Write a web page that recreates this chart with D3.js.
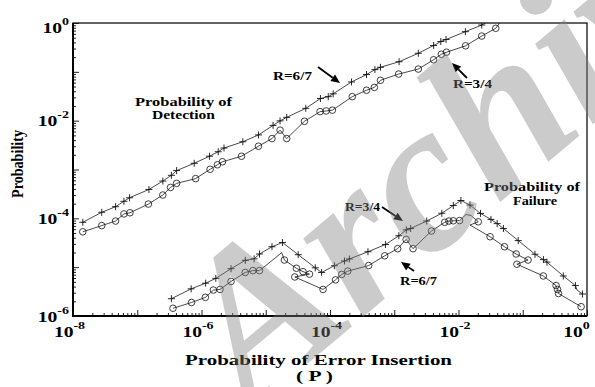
<!DOCTYPE html>
<html>
<head>
<meta charset="utf-8">
<script src="https://cdn.jsdelivr.net/npm/d3@7"></script>
<style>
body { margin: 0; background: #fff; }
svg text { font-family: "Liberation Serif", "Times New Roman", serif; font-weight: bold; fill: #000; }
</style>
</head>
<body>
<svg id="chart" width="595" height="387"></svg>
<script>
// [P, probability, marker?] -- third entry 0 means a line vertex with no marker
var detectR67 = [
  [1.42e-8, 8.3e-5], [2.8e-8, 1.33e-4], [4.6e-8, 1.73e-4], [6.2e-8, 2.23e-4], [7.6e-8, 2.64e-4],
  [1.52e-7, 3.9e-4], [2.5e-7, 5.8e-4], [3.4e-7, 7.6e-4], [4.1e-7, 9.5e-4], [7.7e-7, 1.34e-3],
  [1.33e-6, 1.87e-3], [1.82e-6, 2.31e-3], [2.24e-6, 2.75e-3], [4.4e-6, 3.7e-3], [7.7e-6, 5.1e-3],
  [1.30e-5, 8.0e-3], [1.67e-5, 9.9e-3], [2.12e-5, 1.17e-2], [4.2e-5, 1.79e-2], [7.1e-5, 2.84e-2],
  [9.4e-5, 3.1e-2], [1.12e-4, 3.55e-2], [2.16e-4, 6.2e-2], [3.7e-4, 8.8e-2], [5.0e-4, 0.111],
  [6.1e-4, 0.124], [1.19e-3, 0.161], [2.37e-3, 0.24], [4.1e-3, 0.346], [5.3e-3, 0.418],
  [6.4e-3, 0.459], [1.28e-2, 0.664], [2.30e-2, 0.91], [4.4e-2, 1.46, 0]
];
var detectR34 = [
  [1.42e-8, 5.3e-5], [2.8e-8, 7.1e-5], [4.6e-8, 8.8e-5], [6.2e-8, 1.23e-4], [7.7e-8, 1.30e-4],
  [1.49e-7, 1.96e-4], [2.5e-7, 3.0e-4], [3.3e-7, 4.3e-4], [4.1e-7, 5.2e-4], [8.1e-7, 6.5e-4],
  [1.36e-6, 1.01e-3], [1.77e-6, 1.25e-3], [2.12e-6, 1.44e-3], [4.2e-6, 1.87e-3], [7.7e-6, 3.0e-3],
  [1.25e-5, 4.3e-3], [1.67e-5, 6.4e-3], [2.12e-5, 4.3e-3], [4.0e-5, 9.7e-3], [7.0e-5, 1.53e-2],
  [8.7e-5, 1.58e-2], [1.09e-4, 1.64e-2], [2.22e-4, 3.1e-2], [3.7e-4, 4.2e-2], [4.9e-4, 4.8e-2],
  [6.1e-4, 6.7e-2], [1.17e-3, 9.0e-2], [2.37e-3, 0.114], [4.1e-3, 0.177], [5.4e-3, 0.229],
  [6.5e-3, 0.252], [1.29e-2, 0.341], [2.30e-2, 0.54], [3.8e-2, 0.78], [5.5e-2, 1.53, 0]
];
var failR34 = [
  [3.4e-7, 2.26e-6], [6.9e-7, 3.6e-6], [1.16e-6, 4.7e-6], [1.67e-6, 5.9e-6], [2.88e-6, 9.3e-6],
  [4.8e-6, 1.38e-5], [6.6e-6, 1.48e-5], [8.0e-6, 1.86e-5], [1.25e-5, 2.62e-5], [1.82e-5, 3.2e-5],
  [3.2e-5, 1.80e-5], [5.9e-5, 9.7e-6], [7.4e-5, 7.8e-6], [1.17e-4, 1.07e-5], [1.68e-4, 1.34e-5],
  [2.0e-4, 1.47e-5], [3.9e-4, 2.07e-5], [7.3e-4, 2.91e-5], [1.18e-3, 4.4e-5], [1.54e-3, 5.8e-5],
  [1.80e-3, 6.2e-5], [3.2e-3, 8.8e-5], [5.5e-3, 1.27e-4], [8.3e-3, 1.83e-4], [1.09e-2, 2.32e-4],
  [1.51e-2, 1.87e-4], [2.20e-2, 1.26e-4], [3.2e-2, 9.5e-5], [4.0e-2, 7.8e-5], [5.0e-2, 6.2e-5],
  [8.5e-2, 3.5e-5], [0.155, 1.84e-5], [0.21, 1.43e-5], [0.238, 1.27e-5], [0.428, 6.6e-6],
  [0.66, 4.2e-6], [0.70, 3.4e-6, 0], [0.85, 2.82e-6]
];
var failR67 = [
  [3.6e-7, 1.44e-6], [7.0e-7, 1.89e-6], [1.15e-6, 2.41e-6], [1.53e-6, 3.4e-6], [1.94e-6, 3.5e-6],
  [2.88e-6, 5.1e-6], [4.8e-6, 7.8e-6], [6.3e-6, 8.5e-6], [8.0e-6, 8.5e-6], [1.77e-5, 1.98e-5, 0],
  [1.95e-5, 1.40e-5], [3.0e-5, 9.5e-6], [3.8e-5, 8.1e-6], [4.8e-5, 7.2e-6], [2.83e-5, 6.3e-6],
  [7.8e-5, 3.5e-6], [1.22e-4, 5.5e-6], [1.52e-4, 7.1e-6], [1.89e-4, 8.3e-6], [4.0e-4, 1.08e-5],
  [7.1e-4, 1.71e-5], [1.13e-3, 2.39e-5], [1.53e-3, 3.7e-5], [1.96e-3, 2.39e-5], [3.8e-3, 5.5e-5],
  [6.1e-3, 8.3e-5], [7.1e-3, 8.8e-5], [8.3e-3, 8.9e-5], [1.04e-2, 9.0e-5], [1.31e-2, 1.20e-4, 0],
  [1.57e-2, 1.14e-4, 0], [2.03e-2, 8.5e-5], [1.51e-2, 7.3e-5, 0], [3.1e-2, 4.2e-5], [5.2e-2, 2.62e-5],
  [7.9e-2, 1.86e-5], [0.121, 1.40e-5], [8.1e-2, 1.15e-5], [0.209, 6.6e-6], [0.33, 4.2e-6],
  [0.348, 3.5e-6], [0.36, 2.89e-6], [0.81, 1.55e-6]
];

var xLabelExps = [-8, -6, -4, -2, 0];
var yLabelExps = [-6, -4, -2, 0];

var svg = d3.select("#chart");
var plotL = 73, plotR = 587, plotT = 23, plotB = 316;

var x = d3.scaleLog().domain([1e-8, 1]).range([plotL, plotR]);
var y = d3.scaleLog().domain([1e-6, 1]).range([plotB, plotT]);

function isDecade(d) {
  return Math.abs(Math.log10(d) - Math.round(Math.log10(d))) < 1e-9;
}
var stretch = 1.4;

// minor ticks
svg.append("g").attr("transform", "translate(0," + plotB + ")")
    .call(d3.axisBottom(x).tickValues(x.ticks().filter(d => !isDecade(d)))
      .tickSizeInner(-3).tickSizeOuter(0).tickFormat(""))
    .call(g => g.select(".domain").remove());
svg.append("g").attr("transform", "translate(" + plotL + ",0)")
    .call(d3.axisLeft(y).tickValues(y.ticks().filter(d => !isDecade(d)))
      .tickSizeInner(-3).tickSizeOuter(0).tickFormat(""))
    .call(g => g.select(".domain").remove());

// major ticks + labels
var gx = svg.append("g").attr("transform", "translate(0," + plotB + ")")
    .call(d3.axisBottom(x).tickValues(x.ticks().filter(isDecade)).tickSizeInner(-6).tickSizeOuter(0)
      .tickFormat(d => xLabelExps.includes(Math.round(Math.log10(d))) ? "10" : ""));
gx.select(".domain").remove();
gx.selectAll(".tick text").each(function(d) {
  var t = d3.select(this);
  if (t.text() === "") return;
  var e = Math.round(Math.log10(d));
  t.attr("y", 21).attr("dy", null)
   .attr("x", (e === 0 ? -11 : -4) / stretch)
   .attr("transform", "scale(" + stretch + ",1)")
   .style("font-size", "14px").attr("text-anchor", "middle");
  t.append("tspan").attr("dy", -8).style("font-size", "10px").text(e === 0 ? "0" : "-" + (-e));
});

var gy = svg.append("g").attr("transform", "translate(" + plotL + ",0)")
    .call(d3.axisLeft(y).tickValues(y.ticks().filter(isDecade)).tickSizeInner(-6).tickSizeOuter(0)
      .tickFormat(d => yLabelExps.includes(Math.round(Math.log10(d))) ? "10" : ""));
gy.select(".domain").remove();
gy.selectAll(".tick text").each(function(d) {
  var t = d3.select(this);
  if (t.text() === "") return;
  var e = Math.round(Math.log10(d));
  t.attr("y", e === 0 ? 9 : 5).attr("dy", null)
   .attr("x", -4 / stretch)
   .attr("transform", "scale(" + stretch + ",1)")
   .style("font-size", "14px").attr("text-anchor", "end");
  t.append("tspan").attr("dy", -8).style("font-size", "10px").text(e === 0 ? "0" : "-" + (-e));
});
svg.selectAll(".tick line").attr("stroke", "#222");

// frame
svg.append("rect")
    .attr("x", plotL).attr("y", plotT)
    .attr("width", plotR - plotL).attr("height", plotB - plotT)
    .attr("fill", "none").attr("stroke", "#111").attr("stroke-width", 1.3);
svg.append("path")
    .attr("d", "M" + plotL + "," + plotT + "V" + plotB + "H" + plotR)
    .attr("fill", "none").attr("stroke", "#000").attr("stroke-width", 2);

svg.append("clipPath").attr("id", "plot")
  .append("rect").attr("x", plotL).attr("y", plotT)
    .attr("width", plotR - plotL).attr("height", plotB - plotT);

var line = d3.line().x(d => x(d[0])).y(d => y(d[1]));
var plot = svg.append("g").attr("clip-path", "url(#plot)");

function drawSeries(data, shape) {
  plot.append("path").datum(data)
      .attr("d", line)
      .attr("fill", "none").attr("stroke", "#1a1a1a").attr("stroke-width", 0.8);
  var pts = plot.selectAll(null).data(data.filter(d => d[2] !== 0)).enter();
  if (shape === "o") {
    pts.append("circle")
        .attr("cx", d => x(d[0])).attr("cy", d => y(d[1])).attr("r", 3.3)
        .attr("fill", "none").attr("stroke", "#111").attr("stroke-width", 0.8);
  } else {
    pts.append("path")
        .attr("d", d => "M" + (x(d[0]) - 3.5) + "," + y(d[1]) + "h7M" + x(d[0]) + "," + (y(d[1]) - 3.5) + "v7")
        .attr("stroke", "#111").attr("stroke-width", 0.9);
  }
}
drawSeries(detectR67, "+");
drawSeries(detectR34, "o");
drawSeries(failR34, "+");
drawSeries(failR67, "o");

// annotations
function label(str, x0, y0, len, size) {
  svg.append("text").attr("x", x0).attr("y", y0)
      .attr("textLength", len).attr("lengthAdjust", "spacingAndGlyphs")
      .style("font-size", (size || 12.5) + "px").text(str);
}
label("Probability of", 135, 106, 97);
label("Detection", 152, 119, 63);
label("R=6/7", 273, 80, 39);
label("R=3/4", 453, 88, 39);
label("Probability of", 484, 191, 96);
label("Failure", 513, 205, 44);
label("R=3/4", 345, 211, 35);
label("R=6/7", 400, 285, 37);
label("Probability of Error Insertion", 185, 365, 267, 15);
label("( P )", 296, 381, 37, 14);

svg.append("text")
    .attr("transform", "translate(23,164) rotate(-90)")
    .attr("text-anchor", "middle")
    .attr("textLength", 68).attr("lengthAdjust", "spacingAndGlyphs")
    .style("font-size", "16px")
    .text("Probability");

function arrow(x1, y1, x2, y2) {
  var a = Math.atan2(y2 - y1, x2 - x1), L = 9, W = 4;
  var bx = x2 - L * Math.cos(a), by = y2 - L * Math.sin(a);
  svg.append("line").attr("x1", x1).attr("y1", y1).attr("x2", bx).attr("y2", by)
      .attr("stroke", "#000").attr("stroke-width", 1.8);
  svg.append("polygon")
      .attr("points", [[x2, y2],
        [bx + W * Math.sin(a), by - W * Math.cos(a)],
        [bx - W * Math.sin(a), by + W * Math.cos(a)]].map(p => p.join(",")).join(" "))
      .attr("fill", "#000");
}
arrow(318, 67, 340, 83);
arrow(467, 78, 452, 63);
arrow(382, 207, 403, 221);
arrow(414, 271, 401, 262);

// watermark
svg.append("text")
    .attr("transform", "translate(250,412) rotate(-40)")
    .style("font-size", "215px").style("font-style", "italic")
    .style("fill", "#808080").attr("opacity", 0.4)
    .text("Archive");
</script>
</body>
</html>
